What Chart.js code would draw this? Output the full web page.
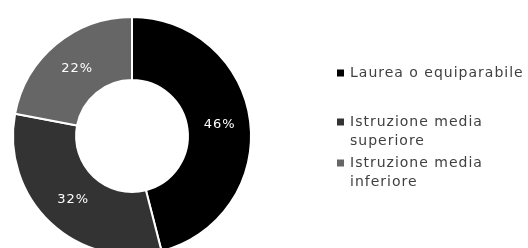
<!DOCTYPE html>
<html>
<head>
<meta charset="utf-8">
<script src="https://cdn.jsdelivr.net/npm/chart.js@4"></script>
<style>
  html,body{margin:0;padding:0;background:#fff;overflow:hidden}
  #wrap{position:absolute;left:0;top:0;width:528px;height:274px}
</style>
</head>
<body>
<div id="wrap"><canvas id="edu"></canvas></div>
<script>
const labels=['Laurea o equiparabile','Istruzione media superiore','Istruzione media inferiore'];
const shares=[46,32,22];
const colors=['#000000','#333333','#666666'];

const FONT='"DejaVu Sans", sans-serif';

// percentage labels at each arc's centroid
const sliceLabels={id:'sliceLabels',afterDatasetsDraw(chart){
  const ctx=chart.ctx;
  ctx.save();
  ctx.fillStyle='#fff';ctx.font='13px '+FONT;ctx.letterSpacing='1px';
  ctx.textAlign='center';ctx.textBaseline='middle';
  chart.getDatasetMeta(0).data.forEach((arc,i)=>{
    const p=arc.tooltipPosition();
    ctx.fillText(shares[i]+'%',p.x+1,p.y);
  });
  ctx.restore();
}};

// legend on the right, wrapped to a fixed width
const sideLegend={id:'sideLegend',afterDraw(chart){
  const ctx=chart.ctx;
  ctx.save();
  ctx.font='14px '+FONT;ctx.letterSpacing='1px';ctx.textBaseline='middle';
  const x0=337,tx=350,maxW=180,lh=19;
  let y=73;
  labels.forEach((t,i)=>{
    const words=t.split(' ');let lines=[],cur='';
    words.forEach(w=>{const s=cur?cur+' '+w:w;
      if(ctx.measureText(s).width>maxW&&cur){lines.push(cur);cur=w;}else cur=s;});
    lines.push(cur);
    ctx.fillStyle=colors[i];ctx.fillRect(x0,y-3.5,7,7);
    ctx.fillStyle='#404040';
    lines.forEach((l,k)=>ctx.fillText(l,tx,y+k*lh));
    y+= i===0?49:41;
  });
  ctx.restore();
}};

new Chart(document.getElementById('edu'),{type:'doughnut',
  data:{labels:labels,datasets:[{data:shares,backgroundColor:colors,
    borderColor:'#fff',borderWidth:2}]},
  options:{responsive:true,maintainAspectRatio:false,animation:false,cutout:'47%',
    layout:{padding:{left:12,top:13,right:276,bottom:15}},
    plugins:{legend:{display:false},tooltip:{enabled:false}}},
  plugins:[sliceLabels,sideLegend]
});
</script>
</body>
</html>
